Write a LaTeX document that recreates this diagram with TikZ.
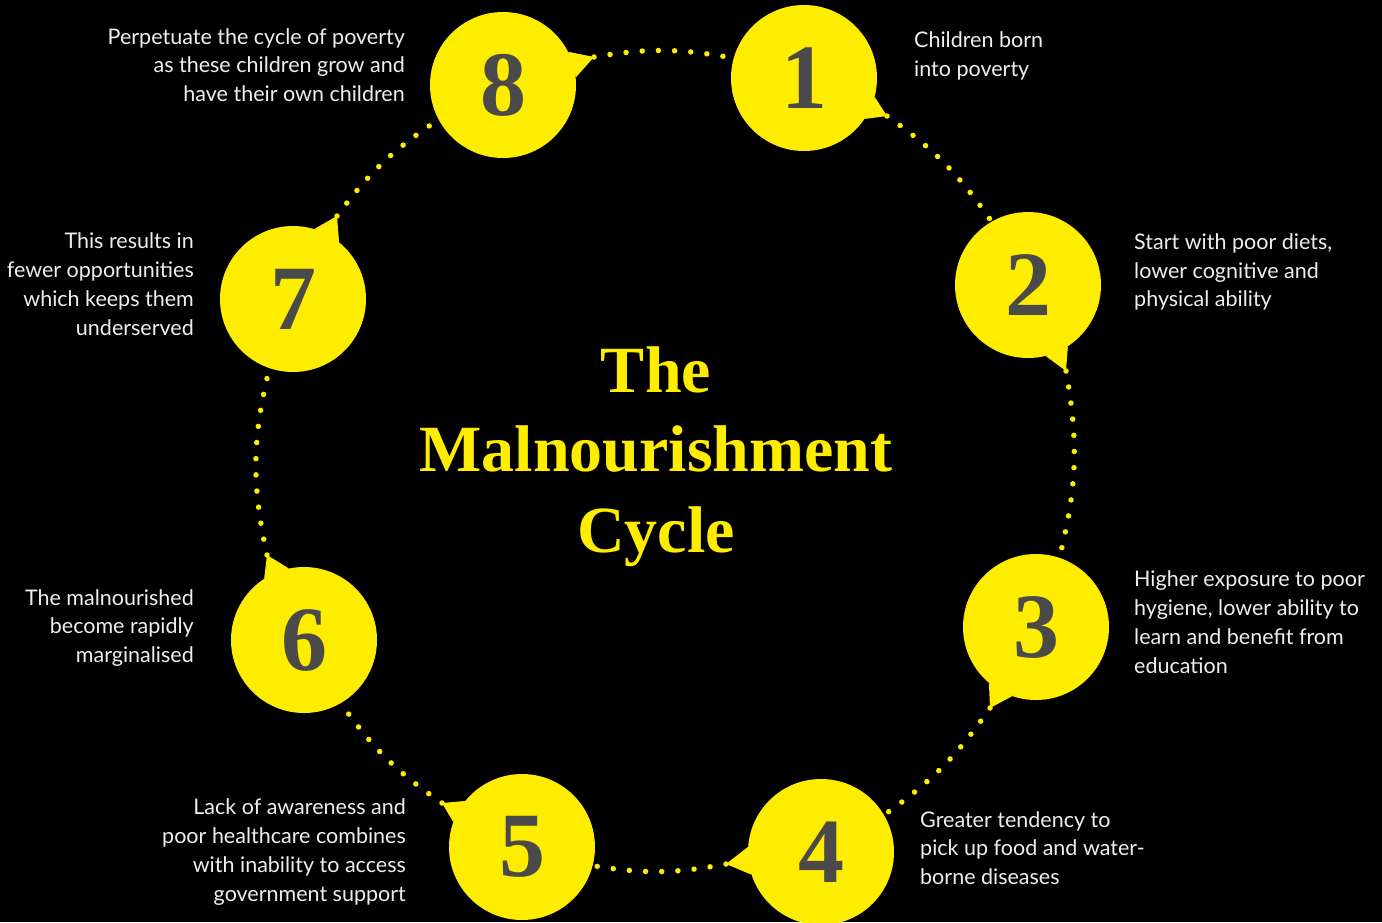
\documentclass[tikz,border=0pt]{standalone}
\usepackage{fontspec}
\setmainfont{Lato}
\newfontfamily\serifb{Liberation Serif}
\definecolor{ylw}{HTML}{FFED00}
\definecolor{dgray}{HTML}{4A4A4A}
\definecolor{txt}{HTML}{EEEEEE}
\begin{document}
\begin{tikzpicture}[x=1pt,y=-1pt,
  bubble/.style={circle,fill=ylw,minimum size=146pt,inner sep=0pt,text=dgray,
    font=\serifb\bfseries\fontsize{92}{92}\selectfont},
  desc/.style={text=txt,inner sep=0pt,font=\fontsize{21.5}{28.8}\selectfont},
  descL/.style={desc,align=left,anchor=west},
  descR/.style={desc,align=right,anchor=east},
  ttl/.style={text=ylw,inner sep=0pt,anchor=base,font=\serifb\bfseries\fontsize{66}{66}\selectfont},
  dotline/.style={ylw,line width=5.5pt,line cap=round,dash pattern=on 0pt off 16.2pt}]
\fill[black] (0,0) rectangle (1382,922);
\useasboundingbox (0,0) rectangle (1382,922);

% bubbles
\node[bubble] (n1) at (804,78) {1};
\node[bubble] (n2) at (1028,285) {2};
\node[bubble] (n3) at (1036,627) {3};
\node[bubble] (n4) at (821,852) {4};
\node[bubble] (n5) at (522,847) {5};
\node[bubble] (n6) at (304,640) {6};
\node[bubble] (n7) at (293,299) {7};
\node[bubble] (n8) at (503,85) {8};

% tail tips
\coordinate (t1) at (887,116);
\coordinate (t2) at (1066,371);
\coordinate (t3) at (990,708);
\coordinate (t4) at (726,864);
\coordinate (t5) at (442,803);
\coordinate (t6) at (267,555);
\coordinate (t7) at (337,216);
\coordinate (t8) at (594,57);

\fill[ylw] (n1.-34) -- (t1) -- (n1.-15) -- cycle;
\fill[ylw] (n2.-76) -- (t2) -- (n2.-57) -- cycle;
\fill[ylw] (n3.-130) -- (t3) -- (n3.-109) -- cycle;
\fill[ylw] (n4.176) -- (t4) -- (n4.198) -- cycle;
\fill[ylw] (n5.141) -- (t5) -- (n5.160) -- cycle;
\fill[ylw] (n6.102) -- (t6) -- (n6.123) -- cycle;
\fill[ylw] (n7.73) -- (t7) -- (n7.51) -- cycle;
\fill[ylw] (n8.27) -- (t8) -- (n8.6) -- cycle;

% dotted connectors
\draw[dotline] (t1) to[bend left=10] (n2);
\draw[dotline] (t2) to[bend left=12] (n3);
\draw[dotline] (t3) to[bend left=10] (n4);
\draw[dotline] (t4) to[bend left=10] (n5);
\draw[dotline] (t5) to[bend left=10] (n6);
\draw[dotline] (t6) to[bend left=13] (n7);
\draw[dotline] (t7) to[bend left=10] (n8);
\draw[dotline] (t8) to[bend left=10] (n1);

% title
\node[ttl] (ti1) at (656,392) {The};
\node[ttl] (ti2) at (656,471) {Malnourishment};
\node[ttl] (ti3) at (656,552) {Cycle};

% descriptions
\node[descL] (d1) at (914,56) {Children born\\into poverty};
\node[descL] (d2) at (1134,272) {Start with poor diets,\\lower cognitive and\\physical ability};
\node[descL] (d3) at (1134,622) {Higher exposure to poor\\hygiene, lower ability to\\learn and benefit from\\education};
\node[descL] (d4) at (920,848) {Greater tendency to\\pick up food and water-\\borne diseases};
\node[descR] (d5) at (406,852) {Lack of awareness and\\poor healthcare combines\\with inability to access\\government support};
\node[descR] (d6) at (194,628) {The malnourished\\become rapidly\\marginalised};
\node[descR] (d7) at (194,284) {This results in\\fewer opportunities\\which keeps them\\underserved};
\node[descR] (d8) at (405,65) {Perpetuate the cycle of poverty\\as these children grow and\\have their own children};
\end{tikzpicture}
\end{document}
